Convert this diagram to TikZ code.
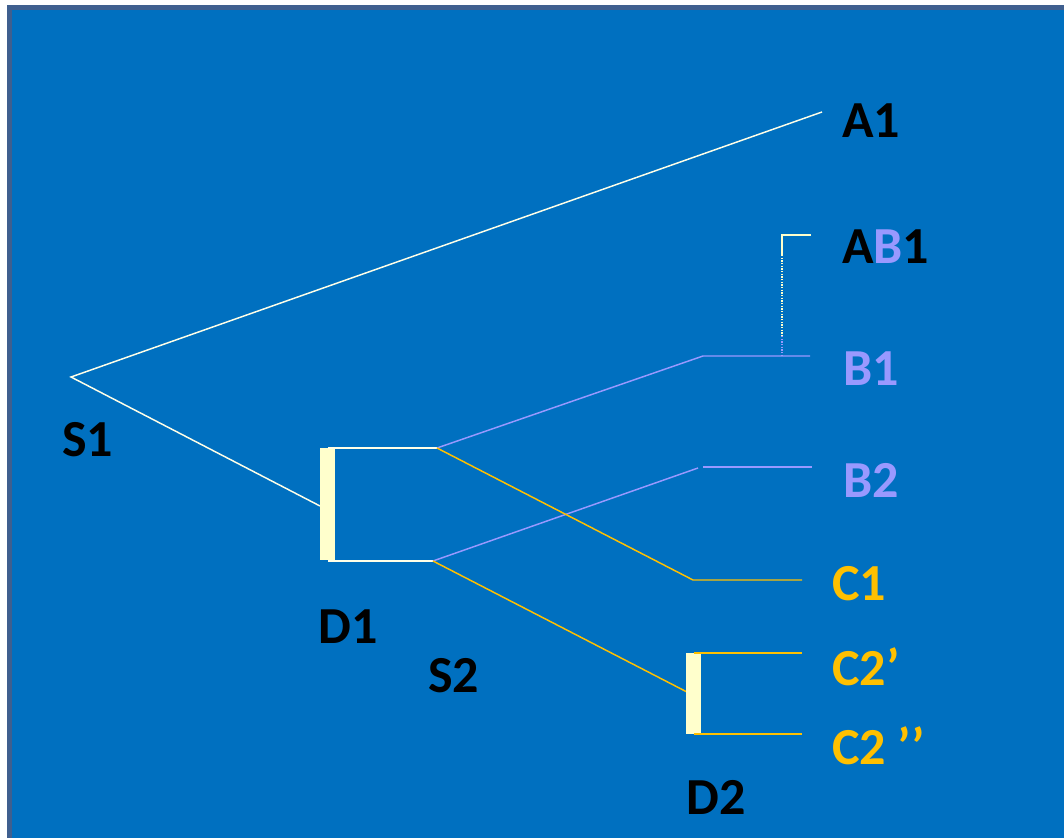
\documentclass[tikz,border=0pt]{standalone}
\usepackage{fontspec}
\setmainfont{Carlito}
\definecolor{bgblue}{HTML}{0070C0}
\definecolor{frameblue}{HTML}{3F5F8F}
\definecolor{barcream}{HTML}{FFFFCC}
\definecolor{linkwhite}{HTML}{FFFFE8}
\definecolor{linkpurple}{HTML}{9999FF}
\definecolor{linkgold}{HTML}{FFC000}
\begin{document}
\begin{tikzpicture}[x=0.75pt, y=-0.75pt,
  treeline/.style={line width=1.1pt},
  dupbar/.style={fill=barcream},
  leaflabel/.style={anchor=west, inner sep=0pt, font=\fontsize{39}{39}\selectfont\bfseries},
]
\def\bgwidth{1064}
\def\bgheight{838}
\useasboundingbox (0, 0) rectangle (\bgwidth, \bgheight);
\fill[white] (0, 0) rectangle (\bgwidth, \bgheight);
\fill[frameblue] (7, 5) rectangle (\bgwidth, \bgheight);
\fill[bgblue] (12, 10) rectangle (\bgwidth, \bgheight);

% junction points
\coordinate (s1) at (71, 377);
\coordinate (a1end) at (822, 112);
\coordinate (d1in) at (320, 506);
\coordinate (t1start) at (328, 448);
\coordinate (t1) at (437, 448);
\coordinate (t2start) at (328, 561);
\coordinate (t2) at (433, 561);
\coordinate (b1knee) at (703, 356);
\coordinate (b1end) at (810, 356);
\coordinate (c1knee) at (693, 580);
\coordinate (c1end) at (802, 580);
\coordinate (b2knee) at (698, 468);
\coordinate (b2start) at (703, 467);
\coordinate (b2end) at (812, 467);
\coordinate (d2in) at (687, 692);
\coordinate (c2astart) at (694, 653);
\coordinate (c2aend) at (802, 653);
\coordinate (c2bstart) at (694, 734);
\coordinate (c2bend) at (802, 734);
\coordinate (ab1top) at (782, 235);
\coordinate (ab1end) at (811, 235);
\coordinate (ab1mid) at (782, 255);
\coordinate (ab1low) at (782, 336);
\coordinate (ab1foot) at (782, 356);

% S1 split
\draw[treeline, linkwhite] (a1end) -- (s1) -- (d1in);

% D1 duplication
\fill[dupbar] (320, 448) rectangle (335, 560);
\draw[treeline, linkwhite] (t1start) -- (t1);
\draw[treeline, linkwhite] (t2start) -- (t2);

% B lineage
\draw[treeline, linkpurple] (t1) -- (b1knee) -- (b1end);
\draw[treeline, linkpurple] (t2) -- (b2knee);
\draw[treeline, linkpurple] (b2start) -- (b2end);

% C lineage
\draw[treeline, linkgold] (t1) -- (c1knee) -- (c1end);
\draw[treeline, linkgold] (t2) -- (d2in);

% D2 duplication
\fill[dupbar] (686, 653) rectangle (701, 734);
\draw[treeline, linkgold] (c2astart) -- (c2aend);
\draw[treeline, linkgold] (c2bstart) -- (c2bend);

% AB1 link
\draw[treeline, barcream] (ab1end) -- (ab1top) -- (ab1mid);
\draw[treeline, barcream, dash pattern=on 1pt off 1pt] (ab1mid) -- (ab1low);
\draw[treeline, linkpurple, dash pattern=on 1pt off 1pt] (ab1low) -- (ab1foot);

% labels
\node[leaflabel] (A1) at (842, 121) {A1};
\node[leaflabel] (AB1) at (842, 247) {A{\color{linkpurple}B}1};
\node[leaflabel, text=linkpurple] (B1) at (843, 369) {B1};
\node[leaflabel, text=linkpurple] (B2) at (843, 480) {B2};
\node[leaflabel, text=linkgold] (C1) at (832, 584) {C1};
\node[leaflabel, text=linkgold] (C2a) at (832, 667) {C2’};
\node[leaflabel, text=linkgold] (C2b) at (832, 746) {C2 ’’};
\node[leaflabel] (S1) at (62, 440) {S1};
\node[leaflabel] (D1) at (318, 627) {D1};
\node[leaflabel] (S2) at (428, 676) {S2};
\node[leaflabel] (D2) at (686, 797) {D2};
\end{tikzpicture}
\end{document}
